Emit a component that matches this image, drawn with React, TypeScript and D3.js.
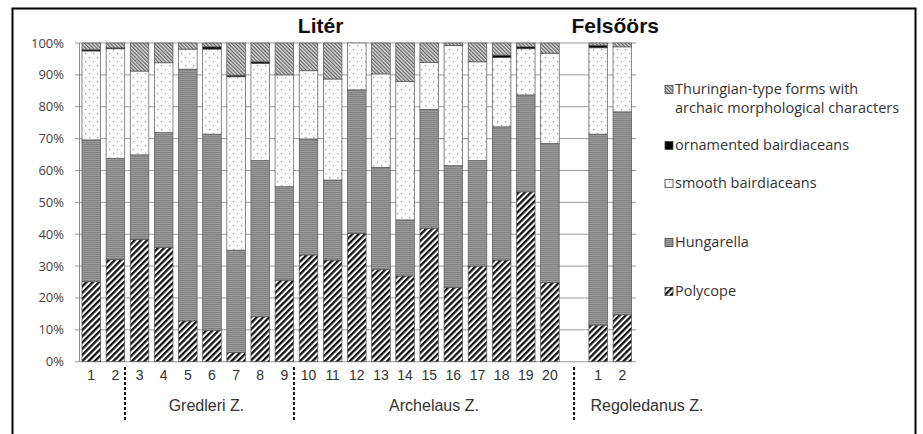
import React from "react";
import * as d3 from "d3";

const W = 923;
const H = 434;

// categories (slot "gap" is an empty column between the two sites)
const literSamples = ["1","2","3","4","5","6","7","8","9","10","11","12","13","14","15","16","17","18","19","20"];
const felsoorsSamples = ["1","2"];

const seriesKeys = ["polycope", "hungarella", "smooth", "ornamented", "thuringian"];
const seriesNames = [
  ["Thuringian-type forms with", "archaic morphological characters"],
  ["ornamented bairdiaceans"],
  ["smooth bairdiaceans"],
  ["Hungarella"],
  ["Polycope"],
];

// percentages per sample: Litér 1..20, then Felsőörs 1..2
const polycope   = [25.1, 32.1, 38.4, 35.8, 12.8, 9.9, 2.9, 14.1, 25.6, 33.5, 31.9, 40.3, 29.0, 26.9, 41.9, 23.3, 30.0, 31.9, 53.3, 24.8, 11.5, 14.7];
const hungarella = [44.5, 31.7, 26.5, 36.1, 79.0, 61.5, 32.1, 49.0, 29.3, 36.4, 25.1, 45.0, 32.0, 17.6, 37.3, 38.2, 33.1, 41.8, 30.4, 43.7, 59.9, 63.7];
const smooth     = [27.9, 34.4, 26.3, 21.9, 6.3, 26.7, 54.4, 30.5, 35.1, 21.4, 31.7, 14.7, 29.3, 43.4, 14.7, 37.7, 31.0, 21.8, 14.5, 28.3, 27.1, 20.4];
const ornamented = [0.4, 0.3, 0, 0, 0, 0.7, 0.5, 0.5, 0, 0, 0, 0, 0, 0, 0, 0, 0, 0.7, 0.6, 0, 0.8, 0];
const thuringian = [2.1, 1.5, 8.8, 6.2, 1.9, 1.2, 10.1, 5.9, 10.0, 8.7, 11.3, 0, 9.7, 12.1, 6.1, 0.8, 5.9, 3.8, 1.2, 3.2, 0.7, 1.2];

const yTicks = [0, 10, 20, 30, 40, 50, 60, 70, 80, 90, 100];
const zoneLabels = ["Gredleri Z.", "Archelaus Z.", "Regoledanus Z."];

const fills: Record<string, string> = {
  polycope: "url(#pPoly)",
  hungarella: "url(#pHung)",
  smooth: "url(#pSmooth)",
  ornamented: "#000",
  thuringian: "url(#pThur)",
};
const legendFills = ["url(#pThur)", "#000", "url(#pSmooth)", "url(#pHung)", "url(#pPoly)"];

export default function App() {
  const slots = [
    ...literSamples.map((s) => "L" + s),
    "gap",
    ...felsoorsSamples.map((s) => "F" + s),
  ];
  const labelOf = (k: string) => (k === "gap" ? "" : k.slice(1));

  const rows = slots
    .filter((k) => k !== "gap")
    .map((k, i) => ({
      key: k,
      polycope: polycope[i],
      hungarella: hungarella[i],
      smooth: smooth[i],
      ornamented: ornamented[i],
      thuringian: thuringian[i],
    }));

  const x = d3.scaleBand<string>().domain(slots).range([79.2, 634.4]).paddingInner(0.23).paddingOuter(0.115);
  const y = d3.scaleLinear().domain([0, 100]).range([361.7, 43]);
  const stack = d3.stack<any>().keys(seriesKeys);
  const layers = stack(rows);

  const bw = x.bandwidth();
  const step = x.step();
  const font = "'Open Sans', sans-serif";
  const arial = "'Liberation Sans', Arial, sans-serif";

  const dashXs = [
    (x("L3") as number) - (step - bw) / 2 - 2.5,
    (x("L10") as number) - (step - bw) / 2 - 2.5,
    (x("gap") as number) + bw / 2,
  ];
  const litCenter = ((x("L1") as number) + (x("L20") as number) + bw) / 2;
  const felCenter = ((x("F1") as number) + (x("F2") as number) + bw) / 2 + 5;
  const zoneX = [
    (dashXs[0] + dashXs[1]) / 2 - 3,
    (dashXs[1] + dashXs[2]) / 2,
    647,
  ];

  const legendY = [94, 150, 188, 247, 296];

  return (
    <svg width={W} height={H} style={{ position: "absolute", left: 0, top: 0, background: "#fff" }}>
      <defs>
        <pattern id="pPoly" patternUnits="userSpaceOnUse" width="4.4" height="8" patternTransform="rotate(45)">
          <rect width="4.4" height="8" fill="#fff" />
          <rect x="0" width="2.3" height="8" fill="#111" />
        </pattern>
        <pattern id="pHung" patternUnits="userSpaceOnUse" width="4" height="2">
          <rect width="4" height="2" fill="#838383" />
          <rect y="1" width="4" height="1" fill="#9a9a9a" />
        </pattern>
        <pattern id="pSmooth" patternUnits="userSpaceOnUse" width="8" height="8">
          <rect width="8" height="8" fill="#fcfcfc" />
          <rect x="1" y="1" width="1.3" height="1.3" fill="#a8a8a8" />
          <rect x="5" y="5" width="1.3" height="1.3" fill="#a8a8a8" />
        </pattern>
        <pattern id="pThur" patternUnits="userSpaceOnUse" width="2.6" height="6" patternTransform="rotate(-45)">
          <rect width="2.6" height="6" fill="#d8d8d8" />
          <rect x="0" width="1.2" height="6" fill="#666" />
        </pattern>
      </defs>

      {/* frame */}
      <rect x={12.5} y={8.5} width={903} height={450} fill="none" stroke="#000" strokeWidth={2} />

      {/* gridlines */}
      {yTicks.map((t) => (
        <line key={"g" + t} x1={75} x2={636} y1={y(t)} y2={y(t)} stroke="#9a9a9a" strokeWidth={1} />
      ))}
      <line x1={79.5} x2={79.5} y1={y(0)} y2={y(100)} stroke="#8a8a8a" strokeWidth={1} />

      {/* bars */}
      {layers.map((layer) => (
        <g key={layer.key}>
          {layer.map((d: any) => {
            const v = d[1] - d[0];
            if (v <= 0) return null;
            return (
              <rect
                key={d.data.key}
                x={x(d.data.key)}
                y={y(d[1])}
                width={bw}
                height={y(d[0]) - y(d[1])}
                fill={fills[layer.key]}
                stroke="#555"
                strokeWidth={0.7}
              />
            );
          })}
        </g>
      ))}

      {/* y tick labels */}
      {yTicks.map((t) => (
        <text key={"t" + t} x={64} y={y(t) + 4.5} textAnchor="end" fontFamily={font} fontSize={13} fill="#444">
          {t + "%"}
        </text>
      ))}

      {/* x labels */}
      {slots.map((k) => (
        <text key={"x" + k} x={(x(k) as number) + bw / 2} y={380} textAnchor="middle" fontFamily={arial} fontSize={14} fill="#333">
          {labelOf(k)}
        </text>
      ))}

      {/* zone separators */}
      {dashXs.map((dx, i) => (
        <line key={"d" + i} x1={dx} x2={dx} y1={367} y2={421} stroke="#111" strokeWidth={2} strokeDasharray="3 2" />
      ))}
      {zoneLabels.map((z, i) => (
        <text key={z} x={zoneX[i]} y={411} textAnchor="middle" fontFamily={arial} fontSize={16} fill="#333">
          {z}
        </text>
      ))}

      {/* titles */}
      <text x={litCenter} y={33} textAnchor="middle" fontFamily={arial} fontWeight="bold" fontSize={21} fill="#111">
        Litér
      </text>
      <text x={felCenter} y={33} textAnchor="middle" fontFamily={arial} fontWeight="bold" fontSize={21} fill="#111">
        Felsőörs
      </text>

      {/* legend */}
      {seriesNames.map((lines, i) => (
        <g key={"l" + i}>
          <rect x={665} y={legendY[i] - 8.5} width={8} height={8} fill={legendFills[i]} stroke="#444" strokeWidth={0.8} />
          {lines.map((ln, j) => (
            <text key={j} x={675} y={legendY[i] + j * 19} fontFamily={font} fontSize={14.5} fill="#333">
              {ln}
            </text>
          ))}
        </g>
      ))}
    </svg>
  );
}
